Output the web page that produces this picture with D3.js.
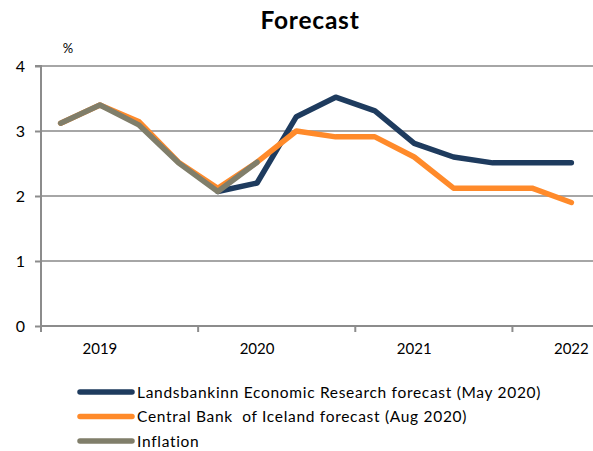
<!DOCTYPE html>
<html><head><meta charset="utf-8">
<script src="https://cdn.jsdelivr.net/npm/d3@7"></script>
<style>body{margin:0;background:#fff;}svg{display:block;font-family:Lato,"Open Sans",sans-serif;}</style>
</head><body><svg id="c" width="593" height="451"></svg>
<script>
const quarters = ["2019Q1","2019Q2","2019Q3","2019Q4","2020Q1","2020Q2","2020Q3","2020Q4","2021Q1","2021Q2","2021Q3","2021Q4","2022Q1","2022Q2"];
const yearLabels = ["","2019","","","","2020","","","","2021","","","","2022"];
const landsbankinn = [null,null,null,null,2.07,2.2,3.22,3.52,3.31,2.81,2.6,2.51,2.51,2.51];
const centralBank = [3.12,3.4,3.14,2.52,2.12,2.52,3.0,2.91,2.91,2.6,2.12,2.12,2.12,1.9];
const inflation = [3.12,3.4,3.09,2.51,2.07,2.52,null,null,null,null,null,null,null,null];
const yTicks = [0,1,2,3,4];
const seriesNames = ["Landsbankinn Economic Research forecast (May 2020)","Central Bank  of Iceland forecast (Aug 2020)","Inflation"];
const colors = ["#1e3b5e","#ff8a2a","#807e6a"];

const svg = d3.select("#c");
const L=41, R=591, T=66, B=326;
const x = d3.scaleBand().domain(quarters).range([L,R]);
const y = d3.scaleLinear().domain([0,4]).range([B,T]);

svg.append("text").attr("x",310).attr("y",29).attr("text-anchor","middle")
  .attr("font-size",24.5).attr("font-weight","bold").attr("letter-spacing",0.8).attr("fill","#000").text("Forecast");
svg.append("text").attr("x",68).attr("y",53).attr("text-anchor","middle")
  .attr("font-size",13).attr("fill","#000").text("%");

// gridlines
svg.append("g").selectAll("line").data(yTicks.filter(d=>d>0)).join("line")
  .attr("x1",L).attr("x2",593).attr("y1",d=>y(d)).attr("y2",d=>y(d))
  .attr("stroke","#a6a6a6").attr("stroke-width",2);

// y axis
const ya = svg.append("g").attr("transform",`translate(${L},0)`)
  .call(d3.axisLeft(y).tickValues(yTicks).tickSize(6).tickPadding(10).tickFormat(d3.format("d")));
ya.select(".domain").attr("stroke","#8c8c8c").attr("stroke-width",2).attr("d",`M-6,${T}H0V${B}`);
ya.selectAll(".tick line").attr("stroke","#8c8c8c").attr("stroke-width",2);
ya.selectAll(".tick text").attr("font-size",16).attr("fill","#000").attr("font-family","Lato,sans-serif");

// x axis
const xa = svg.append("g").attr("transform",`translate(0,${B})`)
  .call(d3.axisBottom(x).tickSize(0).tickPadding(17).tickFormat((d,i)=>yearLabels[i]));
xa.select(".domain").attr("stroke","#8c8c8c").attr("stroke-width",2).attr("d",`M${L},0H593`);
xa.selectAll(".tick text").attr("font-size",15).attr("fill","#000").attr("font-family","Lato,sans-serif");
svg.append("g").selectAll("line").data(quarters.filter((d,i)=>i%4===0)).join("line")
  .attr("x1",d=>x(d)).attr("x2",d=>x(d)).attr("y1",B).attr("y2",B+6)
  .attr("stroke","#8c8c8c").attr("stroke-width",2);

const line = d3.line().defined(d=>d.v!=null).x(d=>x(d.q)+x.bandwidth()/2).y(d=>y(d.v));
[landsbankinn, centralBank, inflation].forEach((s,k)=>{
  svg.append("path").datum(s.map((v,i)=>({q:quarters[i],v})))
    .attr("d",line).attr("fill","none").attr("stroke",colors[k])
    .attr("stroke-width",5.5).attr("stroke-linejoin","round").attr("stroke-linecap","round");
});

// legend
const lg = svg.append("g");
seriesNames.forEach((n,i)=>{
  const yy = 392 + i*24.5;
  lg.append("line").attr("x1",80).attr("x2",132).attr("y1",yy).attr("y2",yy)
    .attr("stroke",colors[i]).attr("stroke-width",5.5).attr("stroke-linecap","round");
  lg.append("text").attr("x",137).attr("y",yy+5.5).attr("font-size",15.5).attr("letter-spacing",0.7).attr("fill","#000")
    .attr("xml:space","preserve").style("white-space","pre").text(n);
});
</script></body></html>
